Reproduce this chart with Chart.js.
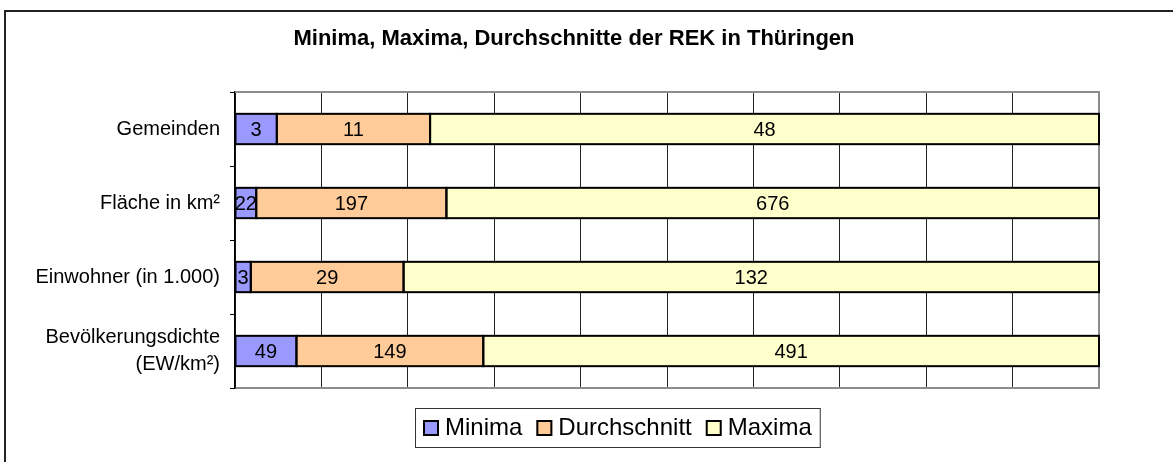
<!DOCTYPE html>
<html>
<head>
<meta charset="utf-8">
<script src="https://cdn.jsdelivr.net/npm/chart.js@4"></script>
<style>
  body { margin: 0; background: #fff; }
  #wrap { position: relative; width: 1173px; height: 462px; overflow: hidden; }
  #frame { position: absolute; left: 4px; top: 10px; width: 1200px; height: 500px;
           border-left: 2px solid #222; border-top: 2px solid #222; }
  canvas { position: absolute; left: 0; top: 0; }
</style>
</head>
<body>
<div id="wrap">
  <div id="frame"></div>
  <canvas id="rekChart" width="1173" height="462"></canvas>
</div>
<script>
var chartTitle = "Minima, Maxima, Durchschnitte der REK in Thüringen";
var categories = ["Gemeinden", "Fläche in km²", "Einwohner (in 1.000)", ["Bevölkerungsdichte", "(EW/km²)"]];
var seriesNames = ["Minima", "Durchschnitt", "Maxima"];
var minima = [3, 22, 3, 49];
var durchschnitt = [11, 197, 29, 149];
var maxima = [48, 676, 132, 491];
var seriesColors = ["#9999FF", "#FFCC99", "#FFFFCC"];

var rawSeries = [minima, durchschnitt, maxima];
var totals = minima.map((v, i) => v + durchschnitt[i] + maxima[i]);

var FONT = "'Liberation Sans', Arial, sans-serif";

var datasets = rawSeries.map(function (vals, s) {
  return {
    label: seriesNames[s],
    data: vals.map((v, i) => (v / totals[i]) * 100),
    raw: vals,
    backgroundColor: seriesColors[s],
    borderWidth: 0,
    barPercentage: 0.41,
    categoryPercentage: 1.0
  };
});

// segment outlines, value labels, title, plot border and legend box
var extras = {
  id: "extras",
  afterDatasetsDraw(chart) {
    var ctx = chart.ctx;
    var area = chart.chartArea;
    ctx.save();
    // top / right border of plot area
    ctx.strokeStyle = "#8c8c8c";
    ctx.lineWidth = 2;
    ctx.beginPath();
    ctx.moveTo(area.left, area.top);
    ctx.lineTo(area.right, area.top);
    ctx.lineTo(area.right, area.bottom);
    ctx.stroke();

    // segment outlines
    ctx.strokeStyle = "#000";
    ctx.lineWidth = 2;
    chart.data.datasets.forEach(function (ds, s) {
      chart.getDatasetMeta(s).data.forEach(function (bar) {
        var p = bar.getProps(["x", "y", "base", "height"], true);
        ctx.strokeRect(Math.min(p.base, p.x), p.y - p.height / 2, Math.abs(p.x - p.base), p.height);
      });
    });

    // value labels
    ctx.fillStyle = "#000";
    ctx.font = "20px " + FONT;
    ctx.textAlign = "center";
    ctx.textBaseline = "middle";
    chart.data.datasets.forEach(function (ds, s) {
      chart.getDatasetMeta(s).data.forEach(function (bar, i) {
        var p = bar.getProps(["x", "y", "base"], true);
        ctx.fillText(String(ds.raw[i]), (p.x + p.base) / 2, p.y + 1);
      });
    });

    // title
    ctx.font = "bold 22px " + FONT;
    ctx.fillText(chartTitle, 574, 39);

    // legend
    ctx.font = "24px " + FONT;
    var sw = 16, gapSw = 6, gapItem = 14, padX = 8;
    var widths = seriesNames.map((n) => ctx.measureText(n).width);
    var total = padX * 2 + widths.reduce((a, w) => a + sw + gapSw + w, 0) + gapItem * (seriesNames.length - 1);
    var bx = Math.round(617 - total / 2), by = 408, bh = 39;
    ctx.fillStyle = "#fff";
    ctx.fillRect(bx, by, total, bh);
    ctx.strokeStyle = "#333";
    ctx.lineWidth = 1;
    ctx.strokeRect(bx + 0.5, by + 0.5, total, bh);
    var x = bx + padX;
    ctx.textAlign = "left";
    seriesNames.forEach(function (n, s) {
      ctx.fillStyle = seriesColors[s];
      ctx.fillRect(x, by + 12, sw, sw);
      ctx.strokeStyle = "#000";
      ctx.lineWidth = 2;
      ctx.strokeRect(x + 1, by + 13, sw - 2, sw - 2);
      ctx.fillStyle = "#000";
      ctx.fillText(n, x + sw + gapSw, by + bh / 2 + 1);
      x += sw + gapSw + widths[s] + gapItem;
    });
    ctx.restore();
  }
};

new Chart(document.getElementById("rekChart"), {
  type: "bar",
  data: { labels: categories, datasets: datasets },
  plugins: [extras],
  options: {
    indexAxis: "y",
    responsive: false,
    animation: false,
    layout: { padding: { top: 92, right: 74, bottom: 74, left: 0 } },
    plugins: {
      legend: { display: false },
      title: { display: false },
      tooltip: { enabled: false }
    },
    scales: {
      x: {
        stacked: true,
        min: 0,
        max: 100,
        ticks: { display: false, stepSize: 10 },
        grid: { color: "#222", lineWidth: 1, drawTicks: false },
        border: { color: "#8c8c8c", width: 2 },
        afterFit(scale) { scale.height = 0; }
      },
      y: {
        stacked: true,
        ticks: {
          color: "#000",
          padding: 10,
          font: { family: FONT, size: 20, lineHeight: 1.35 }
        },
        grid: { drawOnChartArea: false, drawTicks: true, tickLength: 5, color: "#000", offset: true },
        border: { color: "#000", width: 1.5 },
        afterFit(scale) { scale.width = 235; }
      }
    }
  }
});
</script>
</body>
</html>
